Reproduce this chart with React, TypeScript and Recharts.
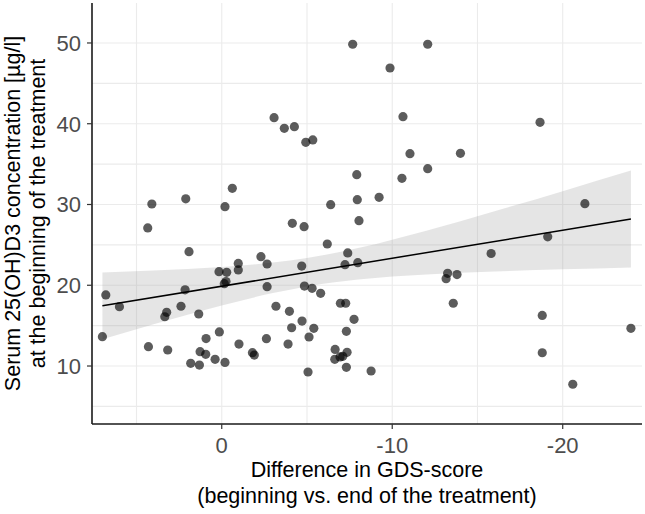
import React from "react";
import { ComposedChart, XAxis, YAxis, CartesianGrid, Scatter, Line, Area } from "recharts";

// Difference in GDS-score (x) and Serum 25(OH)D3 concentration (y)
const gdsDiff = [
  4.1, 2.11, 4.34, 1.92, 6.8, 7.0, 6.0, 2.15, 2.39, 3.34, 3.23, 1.35, 4.3, 3.17, 1.82, 1.31, 0.92, 1.27, 0.94, 0.39, 0.14, -0.19,
  -0.62, -0.19, -4.14, -4.83, -6.39, -7.95, -9.23, -8.05, -6.19, -7.39, -7.23, -7.98, -4.69, -2.3, -2.66, -0.97, -0.97, 0.16, -0.29,
  -0.15, -0.25, -2.66, -4.85, -5.3, -5.8, -3.18, -3.97, -6.96, -7.27, -7.76, -4.71, -4.1, -5.4, -5.12, -7.31, -2.62, -1.01, -3.89,
  -1.8, -1.91, -6.65, -7.35, -6.63, -6.94, -7.1, -7.31, -8.76, -5.06,
  -7.68, -12.08, -9.87, -3.07, -3.67, -4.26, -4.93, -5.34, -10.63, -11.04, -12.08, -10.57, -7.92,
  -14.0, -18.67, -21.3, -19.12, -15.8, -13.25, -13.16, -13.8, -13.58, -18.8, -18.8, -24.0, -20.59,
];
const vitD = [
  30.06, 30.7, 27.1, 24.16, 18.8, 13.63, 17.35, 19.44, 17.4, 16.1, 16.65, 16.44, 12.4, 11.98, 10.33, 10.12, 13.4, 11.77, 11.45, 10.83, 14.22, 10.45,
  32.0, 29.73, 27.67, 27.25, 29.98, 30.6, 30.89, 28.0, 25.11, 24.0, 22.55, 22.79, 22.38, 23.54, 22.63, 22.7, 21.9, 21.68, 21.6,
  20.2, 20.45, 19.82, 19.9, 19.62, 19.0, 17.4, 16.77, 17.77, 17.77, 15.78, 15.57, 14.74, 14.67, 13.59, 14.3, 13.38, 12.72, 12.72,
  11.65, 11.36, 12.05, 11.7, 10.83, 11.12, 11.2, 9.84, 9.38, 9.26,
  49.84, 49.84, 46.9, 40.75, 39.43, 39.63, 37.7, 37.99, 40.87, 36.29, 34.43, 33.24, 33.69,
  36.34, 40.18, 30.1, 26.0, 23.93, 21.48, 20.81, 21.32, 17.77, 16.27, 11.64, 14.67, 7.74,
];

// Fitted line
const fitX = [7, -24];
const fitY = [17.45, 28.2];

// Confidence band
const bandX = [7, 4, 0, -3, -5, -8, -12, -16, -20, -24];
const bandLow = [13.31, 15.16, 17.5, 19.03, 19.85, 20.7, 21.33, 21.7, 21.97, 22.2];
const bandHigh = [21.59, 21.82, 22.26, 22.81, 23.37, 24.6, 26.75, 29.16, 31.65, 34.2];

const xTicks = [0, -10, -20];
const yTicks = [10, 20, 30, 40, 50];
const xGrid = [5, 0, -5, -10, -15, -20];
const yGrid = [5, 10, 15, 20, 25, 30, 35, 40, 45, 50];

const xTitle = ["Difference in GDS-score", "(beginning vs. end of the treatment)"];
const yTitle = ["Serum 25(OH)D3 concentration [µg/l]", "at the beginning of the treatment"];

const FONT = "'Liberation Sans', Arial, Helvetica, sans-serif";

const points = gdsDiff.map((x, i) => ({ x, y: vitD[i] }));
const fit = fitX.map((x, i) => ({ x, y: fitY[i] }));
const band = bandX.map((x, i) => ({ x, band: [bandLow[i], bandHigh[i]] }));

const Dot = (props: any) => {
  const { cx, cy } = props;
  if (cx == null || cy == null) return null;
  return <circle cx={cx} cy={cy} r={4.6} fill="#000" fillOpacity={0.64} />;
};

export default function App() {
  const tickStyle = { fill: "#4d4d4d", fontSize: 22, fontFamily: FONT };
  return (
    <div style={{ position: "absolute", left: 0, top: 0, width: 645, height: 514, background: "#fff" }}>
      <ComposedChart width={645} height={514} margin={{ top: 3, right: 3, bottom: 0, left: 0 }}>
        <CartesianGrid
          stroke="#ebebeb"
          strokeWidth={1.1}
          horizontalValues={yGrid}
          verticalValues={xGrid}
        />
        <XAxis
          type="number"
          dataKey="x"
          domain={[-24.65, 7.61]}
          allowDataOverflow
          reversed
          ticks={xTicks}
          height={90}
          tick={tickStyle}
          tickSize={5}
          tickMargin={8}
          tickLine={{ stroke: "#333", strokeWidth: 1.2 }}
          axisLine={{ stroke: "#1a1a1a", strokeWidth: 1.6 }}
        />
        <YAxis
          type="number"
          domain={[2.82, 54.95]}
          allowDataOverflow
          ticks={yTicks}
          width={92}
          tick={tickStyle}
          tickSize={5}
          tickMargin={6}
          tickLine={{ stroke: "#333", strokeWidth: 1.2 }}
          axisLine={{ stroke: "#1a1a1a", strokeWidth: 1.6 }}
        />
        <Area
          data={band}
          dataKey="band"
          type="monotone"
          fill="#999999"
          fillOpacity={0.25}
          stroke="none"
          isAnimationActive={false}
          activeDot={false}
        />
        <Scatter data={points} dataKey="y" shape={<Dot />} isAnimationActive={false} />
        <Line
          data={fit}
          dataKey="y"
          type="linear"
          stroke="#000"
          strokeWidth={1.5}
          dot={false}
          activeDot={false}
          isAnimationActive={false}
        />
      </ComposedChart>
      <svg
        width={645}
        height={514}
        style={{ position: "absolute", left: 0, top: 0, pointerEvents: "none" }}
      >
        <text x={367} y={477} textAnchor="middle" fontFamily={FONT} fontSize={21.5} fill="#000">
          {xTitle[0]}
        </text>
        <text x={367} y={503} textAnchor="middle" fontFamily={FONT} fontSize={21.5} fill="#000">
          {xTitle[1]}
        </text>
        <text
          x={20}
          y={213.5}
          transform="rotate(-90 20 213.5)"
          textAnchor="middle"
          fontFamily={FONT}
          fontSize={21.5}
          fill="#000"
        >
          {yTitle[0]}
        </text>
        <text
          x={45}
          y={213.5}
          transform="rotate(-90 45 213.5)"
          textAnchor="middle"
          fontFamily={FONT}
          fontSize={21.5}
          fill="#000"
        >
          {yTitle[1]}
        </text>
      </svg>
    </div>
  );
}
